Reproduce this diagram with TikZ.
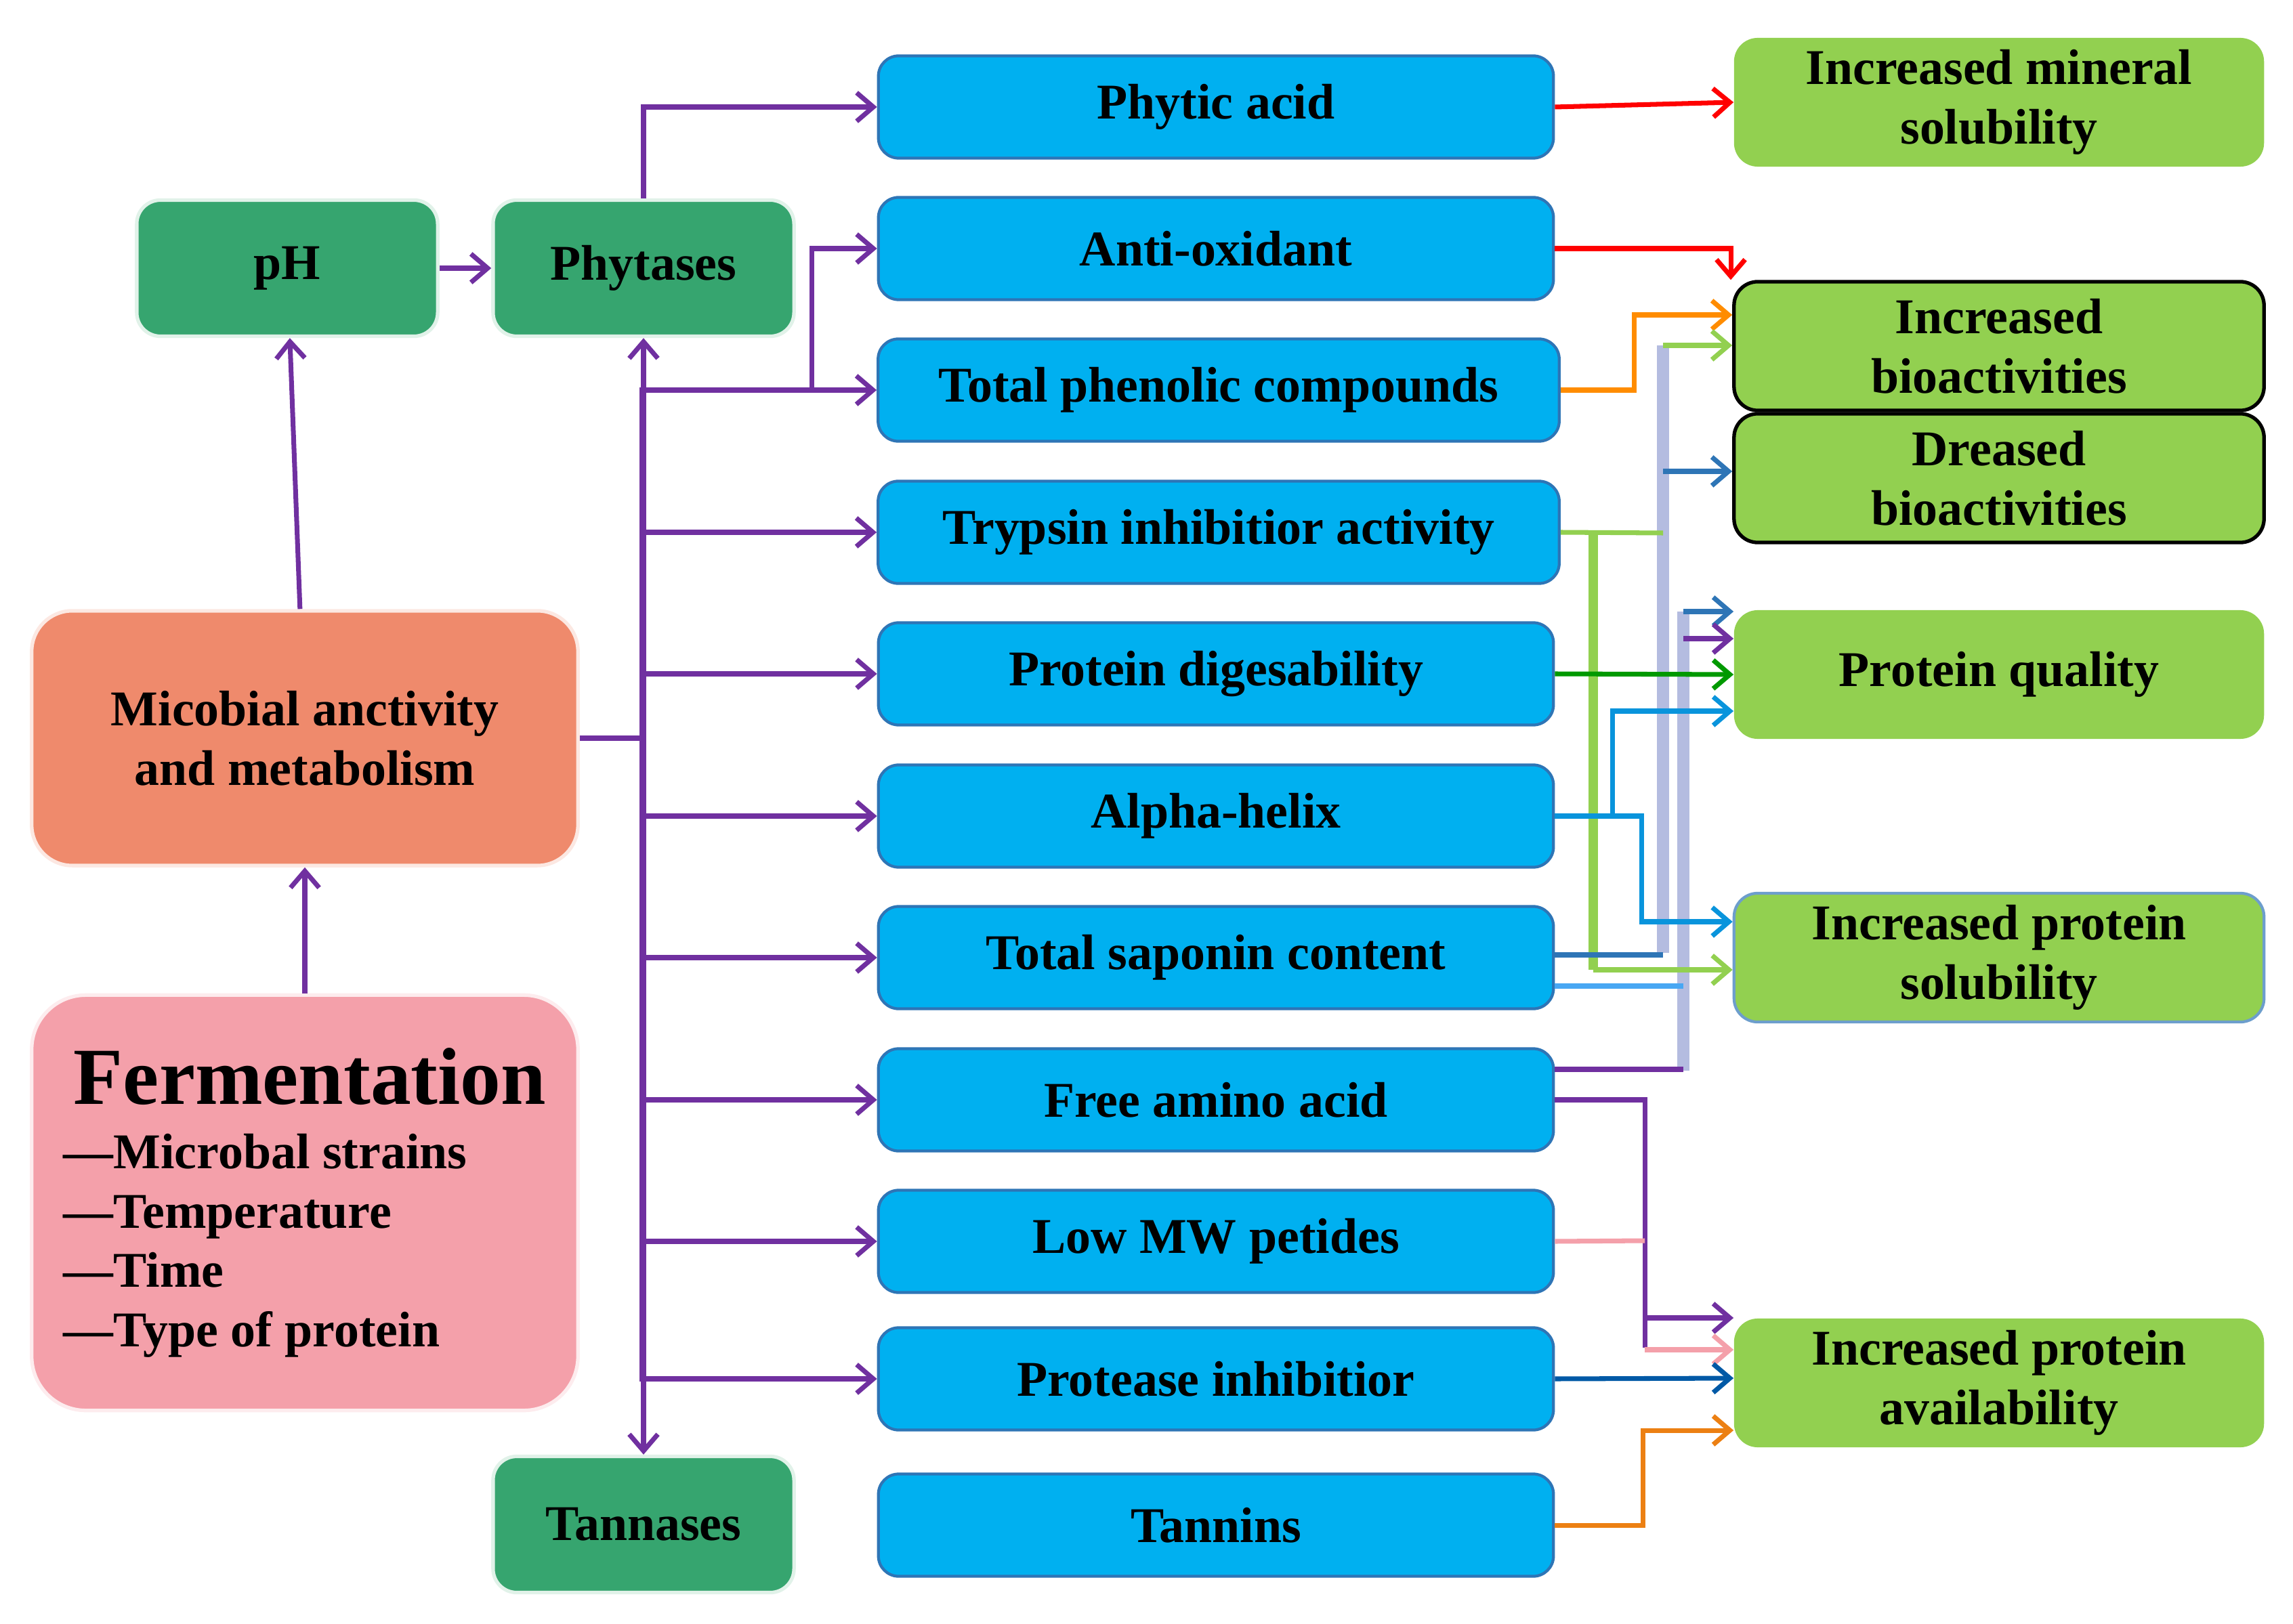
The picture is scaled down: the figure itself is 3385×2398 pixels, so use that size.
\documentclass[tikz,border=0pt]{standalone}
\usepackage{fontspec}
\setmainfont{Liberation Serif}
\usetikzlibrary{arrows.meta}
\definecolor{bl}{HTML}{00B0F0}
\definecolor{blb}{HTML}{2E75B6}
\definecolor{dg}{HTML}{36A56F}
\definecolor{lg}{HTML}{92D050}
\definecolor{org}{HTML}{EF8A6C}
\definecolor{pnk}{HTML}{F4A0AA}
\definecolor{pur}{HTML}{7030A0}
\definecolor{lav}{HTML}{B4BCE0}
\begin{document}
\begin{tikzpicture}[x=0.01cm,y=-0.01cm,
 txt/.style={font=\fontsize{21}{25}\selectfont\bfseries,align=center,inner sep=0pt},
 bbox/.style={txt,rectangle,rounded corners=0.3cm,fill=bl,draw=blb,line width=1.2pt,minimum width=9.96cm,minimum height=1.51cm},
 dbox/.style={txt,rectangle,rounded corners=0.35cm,fill=dg,draw=white!85!dg,line width=1.5pt,minimum width=4.44cm,minimum height=2.01cm},
 gbox/.style={txt,rectangle,rounded corners=0.35cm,fill=lg,minimum width=7.82cm,minimum height=1.9cm},
 pa/.style={draw=pur,line width=2pt,-{Straight Barb[length=7pt,width=12pt,line width=2pt]}},
 ar/.style={line width=2pt,-{Straight Barb[length=7pt,width=12pt,line width=2pt]}},
 ln/.style={line width=2pt}]
\path[use as bounding box] (0,0) rectangle (3385,2398);
% left nodes
\node[dbox] (ph) at (424,396) {pH};
\node[dbox] (phy) at (950,396) {Phytases};
\node[dbox] (tan) at (950,2251) {Tannases};
\node[txt,rectangle,rounded corners=0.6cm,fill=org,draw=white!80!org,line width=1.5pt,minimum width=8.06cm,minimum height=3.76cm] (mic) at (450,1090) {Micobial anctivity\\and metabolism};
\node[txt,rectangle,rounded corners=0.8cm,fill=pnk,draw=white!80!pnk,line width=1.5pt,minimum width=8.06cm,minimum height=6.13cm,align=left] (fer) at (450,1776) {\hspace*{0.15cm}{\fontsize{34}{40}\selectfont Fermentation}\\[2pt]\textemdash Microbal strains\\\textemdash Temperature\\\textemdash Time\\\textemdash Type of protein};
% blue nodes
\node[bbox] (b1) at (1795,158) {Phytic acid};
\node[bbox] (b2) at (1795,367) {Anti-oxidant};
\node[bbox,minimum width=10.05cm] (b3) at (1799,576) {Total phenolic compounds};
\node[bbox,minimum width=10.05cm] (b4) at (1799,786) {Trypsin inhibitior activity};
\node[bbox] (b5) at (1795,995) {Protein digesability};
\node[bbox] (b6) at (1795,1205) {Alpha-helix};
\node[bbox] (b7) at (1795,1414) {Total saponin content};
\node[bbox] (b8) at (1795,1624) {Free amino acid};
\node[bbox] (b9) at (1795,1833) {Low MW petides};
\node[bbox] (b10) at (1795,2036) {Protease inhibitior};
\node[bbox] (b11) at (1795,2252) {Tannins};
% green nodes
\node[gbox] (g1) at (2951,151) {Increased mineral\\solubility};
\node[gbox,draw=black,line width=1.5pt] (g2) at (2951,511) {Increased\\bioactivities};
\node[gbox,draw=black,line width=1.5pt] (g3) at (2951,706) {Dreased\\bioactivities};
\node[gbox] (g4) at (2951,996) {Protein quality};
\node[gbox,draw=blb!70,line width=1.2pt] (g5) at (2951,1414) {Increased protein\\solubility};
\node[gbox] (g6) at (2951,2042) {Increased protein\\availability};
% left purple connectors
\draw[pa] (fer) -- (mic);
\draw[pa] (mic) -- (ph);
\draw[pa] (ph) -- (phy);
\coordinate (tj) at (950,1090);
\draw[ln,pur] (mic.east) -- (tj);
\draw[pa] (tj) -- (phy.south);
\draw[pa] (tj) -- (tan.north);
\draw[pa] (phy.north) |- (b1.west);
\coordinate (aj) at (1198,576);
\draw[pa] (aj) |- (b2.west);
\foreach \b in {b3,b4,b5,b6,b7,b8,b9,b10}{\draw[pa] (b1.west |- tj) ++(-347,0) |- (\b.west);}
% right connectors
\draw[ar,red] (b1.east) -- (g1.west);
\draw[ar,red] (b2.east) -| (g2.north west -| 2555,0);
\draw[ar,orange!90!yellow] (b3.east) -| (2412,465) -- (g2.west |- {(0,465)});
\draw[line width=5pt,lav] (2455,510) -- (2455,1407);
\draw[line width=5pt,lav] (2485,903) -- (2485,1581);
\draw[ln,lg] (b4.east) -- (2455,787);
\draw[line width=4pt,lg] (2352,787) -- (2352,1432);
\draw[ar,lg] (2352,1432) -- (g5.west |- {(0,1432)});
\draw[ar,lg] (2455,510) -- (g2.west |- {(0,510)});
\draw[ar,blb] (2455,696) -- (g3.west |- {(0,696)});
\draw[ln,blb] (b7.east) ++(0,-4) -- (2455,1410);
\draw[ln,blue!40!cyan!60!lav] (b7.east) ++(0,42) -- (2485,1456);
\draw[ln,pur] (b8.east) ++(0,-45) -- (2485,1579);
\draw[ar,blb] (2485,903) -- (g4.west |- {(0,903)});
\draw[ar,pur] (2485,943) -- (g4.west |- {(0,943)});
\draw[ar,green!60!black] (b5.east) -- (g4.west);
\draw[ar,cyan!80!blue] (b6.east) -| (2423,1361) -- (g5.west |- {(0,1361)});
\draw[ar,cyan!80!blue] (2380,1206) |- (g4.west |- {(0,1050)});
\draw[ln,pur] (b8.east) -| (2428,1990);
\draw[ar,pur] (2428,1946) -- (g6.west |- {(0,1946)});
\draw[ln,pnk] (b9.east) -- (2428,1832);
\draw[ar,pnk] (2428,1993) -- (g6.west |- {(0,1993)});
\draw[ar,teal!70!blue] (b10.east) -- (g6.west |- {(0,2035)});
\draw[ar,orange!70!brown] (b11.east) -| (2425,2112) -- (g6.west |- {(0,2112)});
\end{tikzpicture}
\end{document}
